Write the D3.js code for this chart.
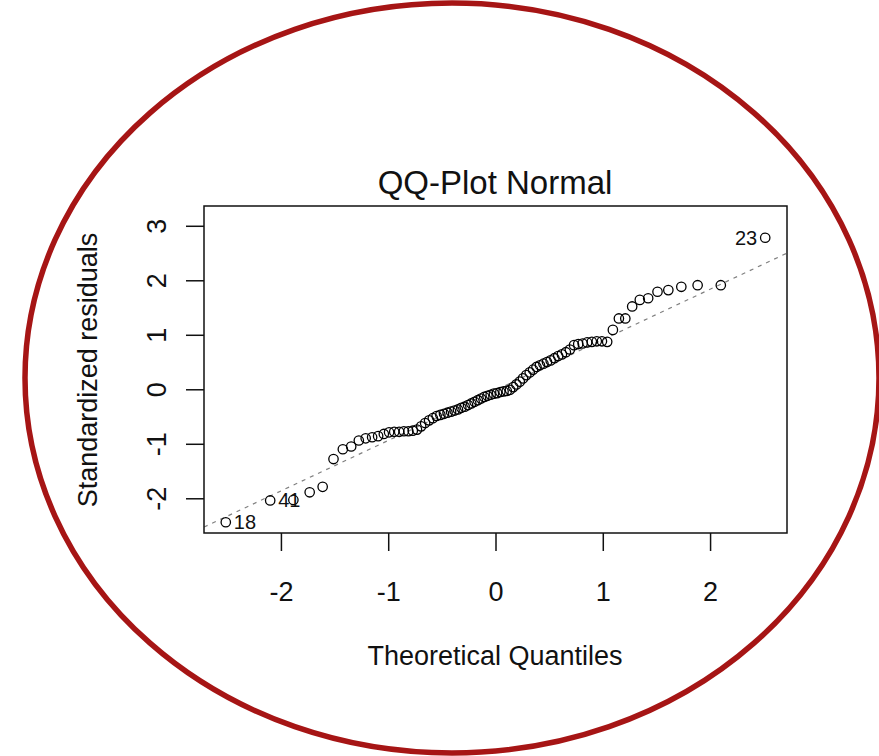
<!DOCTYPE html>
<html>
<head>
<meta charset="utf-8">
<script src="https://cdn.jsdelivr.net/npm/d3@7"></script>
<style>
  body { margin: 0; background: #fff; }
  svg text { font-family: "Liberation Sans", Arial, sans-serif; fill: #111; }
</style>
</head>
<body>
<div id="chart"></div>
<script>
// theoretical quantiles (x) and standardized residuals (y)
const theoQ = [-2.514, -2.100, -1.884, -1.732, -1.611, -1.510, -1.423, -1.345, -1.274, -1.210,
  -1.150, -1.094, -1.041, -0.992, -0.944, -0.898, -0.854, -0.812, -0.771, -0.732,
  -0.693, -0.656, -0.619, -0.584, -0.549, -0.514, -0.480, -0.447, -0.414, -0.382,
  -0.350, -0.319, -0.287, -0.256, -0.226, -0.195, -0.165, -0.135, -0.105, -0.075,
  -0.045, -0.015, 0.015, 0.045, 0.075, 0.105, 0.135, 0.165, 0.195, 0.226,
  0.256, 0.287, 0.319, 0.350, 0.382, 0.414, 0.447, 0.480, 0.514, 0.549,
  0.584, 0.619, 0.656, 0.693, 0.732, 0.771, 0.812, 0.854, 0.898, 0.944,
  0.992, 1.041, 1.094, 1.150, 1.210, 1.274, 1.345, 1.423, 1.510, 1.611,
  1.732, 1.884, 2.100, 2.514];
const stdResid = [-2.44, -2.04, -2.03, -1.89, -1.79, -1.28, -1.10, -1.05, -0.94, -0.90,
  -0.88, -0.86, -0.82, -0.79, -0.78, -0.78, -0.77, -0.77, -0.76, -0.74,
  -0.68, -0.62, -0.57, -0.53, -0.49, -0.47, -0.45, -0.43, -0.41, -0.39,
  -0.37, -0.34, -0.32, -0.29, -0.26, -0.23, -0.20, -0.17, -0.14, -0.12,
  -0.10, -0.08, -0.07, -0.05, -0.04, -0.03, -0.01, 0.04, 0.09, 0.14,
  0.20, 0.26, 0.31, 0.36, 0.41, 0.44, 0.47, 0.50, 0.53, 0.57,
  0.61, 0.64, 0.68, 0.73, 0.81, 0.83, 0.84, 0.86, 0.87, 0.88,
  0.88, 0.87, 1.09, 1.30, 1.30, 1.52, 1.64, 1.67, 1.79, 1.82,
  1.88, 1.91, 1.91, 2.78];

// labelled extremes (index into arrays -> observation number)
const labelIdx = [0, 1, 83];
const labelText = ["18", "41", "23"];

const xTicks = [-2, -1, 0, 1, 2];
const yTicks = [-2, -1, 0, 1, 2, 3];

// qq reference line
const lineIntercept = -0.015;
const lineSlope = 0.925;

const width = 879, height = 756;
const plot = { left: 204, top: 206, right: 787, bottom: 533 };

const svg = d3.select("#chart").append("svg")
  .attr("width", width)
  .attr("height", height);

// red ellipse around the plot
svg.append("ellipse")
  .attr("cx", 452).attr("cy", 378)
  .attr("rx", 427).attr("ry", 375)
  .attr("fill", "none")
  .attr("stroke", "#a61515")
  .attr("stroke-width", 5.5);

const x = d3.scaleLinear().domain([-2.717, 2.717]).range([plot.left, plot.right]);
const y = d3.scaleLinear().domain([-2.637, 3.363]).range([plot.bottom, plot.top]);

// qq line, clipped to the box
svg.append("clipPath").attr("id", "clip")
  .append("rect")
  .attr("x", plot.left).attr("y", plot.top)
  .attr("width", plot.right - plot.left).attr("height", plot.bottom - plot.top);

const xd = x.domain();
svg.append("line")
  .attr("clip-path", "url(#clip)")
  .attr("x1", x(xd[0])).attr("y1", y(lineIntercept + lineSlope * xd[0]))
  .attr("x2", x(xd[1])).attr("y2", y(lineIntercept + lineSlope * xd[1]))
  .attr("stroke", "#808080")
  .attr("stroke-width", 1.2)
  .attr("stroke-dasharray", "4,5");

// points
svg.append("g")
  .selectAll("circle")
  .data(theoQ.map((q, i) => [q, stdResid[i]]))
  .join("circle")
  .attr("cx", d => x(d[0]))
  .attr("cy", d => y(d[1]))
  .attr("r", 4.7)
  .attr("fill", "none")
  .attr("stroke", "#000")
  .attr("stroke-width", 1.3);

// point labels: left side labels go right, right side go left
svg.append("g")
  .selectAll("text")
  .data(labelIdx)
  .join("text")
  .attr("x", (d) => theoQ[d] < 0 ? x(theoQ[d]) + 8 : x(theoQ[d]) - 8)
  .attr("y", d => y(stdResid[d]) + 7)
  .attr("text-anchor", d => theoQ[d] < 0 ? "start" : "end")
  .style("font-size", "20px")
  .text((d, i) => labelText[i]);

// box
svg.append("rect")
  .attr("x", plot.left).attr("y", plot.top)
  .attr("width", plot.right - plot.left).attr("height", plot.bottom - plot.top)
  .attr("fill", "none")
  .attr("stroke", "#111")
  .attr("stroke-width", 1.5);

// plain hyphen minus like R
const fmt = d => String(d);

// x axis
const gx = svg.append("g")
  .attr("transform", `translate(0,${plot.bottom})`)
  .call(d3.axisBottom(x).tickValues(xTicks).tickSize(18).tickFormat(fmt));
gx.select(".domain").remove();
gx.selectAll(".tick line").attr("stroke", "#111").attr("stroke-width", 1.5);
gx.selectAll(".tick text")
  .attr("y", 68).attr("dy", 0)
  .style("font-size", "27px");

// y axis, labels parallel to the axis like R
const gy = svg.append("g")
  .attr("transform", `translate(${plot.left},0)`)
  .call(d3.axisLeft(y).tickValues(yTicks).tickSize(18).tickFormat(fmt));
gy.select(".domain").remove();
gy.selectAll(".tick line").attr("stroke", "#111").attr("stroke-width", 1.5);
gy.selectAll(".tick text")
  .attr("x", 0).attr("y", 0).attr("dy", 0)
  .attr("text-anchor", "middle")
  .attr("transform", "translate(-38,0) rotate(-90)")
  .style("font-size", "27px");

// titles
svg.append("text")
  .attr("x", 495).attr("y", 194)
  .attr("text-anchor", "middle")
  .style("font-size", "33px")
  .text("QQ-Plot Normal");

svg.append("text")
  .attr("x", 495).attr("y", 665)
  .attr("text-anchor", "middle")
  .style("font-size", "27px")
  .text("Theoretical Quantiles");

svg.append("text")
  .attr("transform", "translate(97,370) rotate(-90)")
  .attr("text-anchor", "middle")
  .style("font-size", "27px")
  .text("Standardized residuals");
</script>
</body>
</html>
